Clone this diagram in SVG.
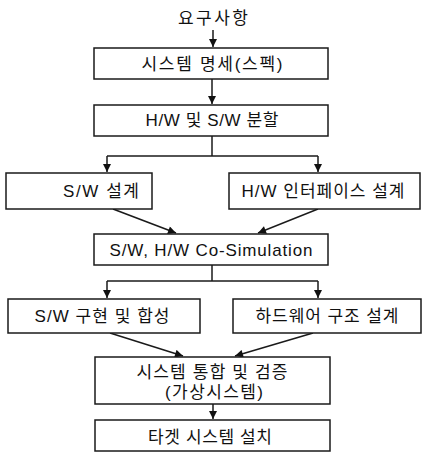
<svg xmlns="http://www.w3.org/2000/svg" width="422" height="452" viewBox="0 0 422 452">
<style>
.box{fill:#fff;stroke:#1a1a1a;stroke-width:1.5}
.t{font-family:"Liberation Sans","Noto Sans CJK KR",sans-serif;font-size:17px;fill:#111;text-anchor:middle;dominant-baseline:central}
.c{fill:none;stroke:#1a1a1a;stroke-width:1.5}
</style>
<defs>
<marker id="ah" viewBox="0 0 10 10" refX="10" refY="5" markerWidth="9" markerHeight="8" markerUnits="userSpaceOnUse" orient="auto">
<path d="M0,0 L10,5 L0,10 z" fill="#111"/>
</marker>
</defs>
<rect width="422" height="452" fill="#fff"/>
<g id="connectors">
<line class="c" x1="213" y1="30" x2="213" y2="47" marker-end="url(#ah)"/>
<line class="c" x1="212" y1="79" x2="212" y2="104" marker-end="url(#ah)"/>
<polyline class="c" points="212,136 212,156"/>
<polyline class="c" points="107,156 318,156"/>
<line class="c" x1="107" y1="156" x2="107" y2="172" marker-end="url(#ah)"/>
<line class="c" x1="318" y1="156" x2="318" y2="172" marker-end="url(#ah)"/>
<line class="c" x1="113" y1="209" x2="176" y2="233" marker-end="url(#ah)"/>
<line class="c" x1="318" y1="209" x2="258" y2="233" marker-end="url(#ah)"/>
<polyline class="c" points="212,265 212,281"/>
<polyline class="c" points="107,281 318,281"/>
<line class="c" x1="107" y1="281" x2="107" y2="298" marker-end="url(#ah)"/>
<line class="c" x1="318" y1="281" x2="318" y2="298" marker-end="url(#ah)"/>
<line class="c" x1="110" y1="333" x2="183" y2="356" marker-end="url(#ah)"/>
<line class="c" x1="313" y1="333" x2="235" y2="356" marker-end="url(#ah)"/>
<line class="c" x1="213" y1="404" x2="213" y2="419" marker-end="url(#ah)"/>
</g>
<g id="n0"><text class="t" x="213" y="18" textLength="70" lengthAdjust="spacing">요구사항</text></g>
<g id="n1"><rect class="box" x="94" y="48" width="234" height="31"/><text class="t" x="212" y="64" textLength="141" lengthAdjust="spacing">시스템 명세(스펙)</text></g>
<g id="n2"><rect class="box" x="94" y="105" width="234" height="31"/><text class="t" x="212" y="120" textLength="133" lengthAdjust="spacing">H/W 및 S/W 분할</text></g>
<g id="n3"><rect class="box" x="6" y="173" width="146" height="36"/><text class="t" x="101" y="191" textLength="76" lengthAdjust="spacing">S/W 설계</text></g>
<g id="n4"><rect class="box" x="229" y="173" width="191" height="36"/><text class="t" x="323" y="191" textLength="163" lengthAdjust="spacing">H/W 인터페이스 설계</text></g>
<g id="n5"><rect class="box" x="94" y="234" width="234" height="31"/><text class="t" x="211" y="250" textLength="203" lengthAdjust="spacing">S/W, H/W Co-Simulation</text></g>
<g id="n6"><rect class="box" x="8" y="299" width="192" height="34"/><text class="t" x="102" y="316" textLength="135" lengthAdjust="spacing">S/W 구현 및 합성</text></g>
<g id="n7"><rect class="box" x="233" y="299" width="188" height="34"/><text class="t" x="327" y="316" textLength="143" lengthAdjust="spacing">하드웨어 구조 설계</text></g>
<g id="n8"><rect class="box" x="95" y="357" width="235" height="47"/><text class="t" x="212" y="372" textLength="151" lengthAdjust="spacing">시스템 통합 및 검증</text><text class="t" x="214" y="392" textLength="98" lengthAdjust="spacing">(가상시스템)</text></g>
<g id="n9"><rect class="box" x="95" y="420" width="235" height="31"/><text class="t" x="210" y="437" textLength="124" lengthAdjust="spacing">타겟 시스템 설치</text></g>
</svg>
